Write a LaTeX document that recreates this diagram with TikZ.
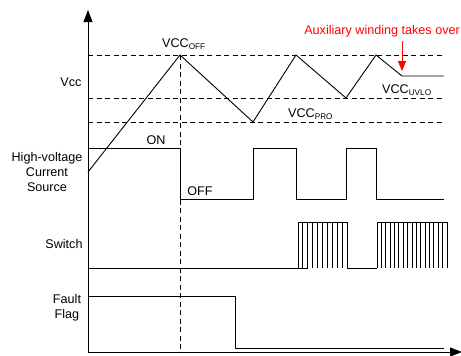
\documentclass[tikz,border=0pt]{standalone}
\usepackage{fontspec}
\setmainfont{Liberation Sans}
\usetikzlibrary{arrows.meta}
\begin{document}
\begin{tikzpicture}[x=1pt,y=-1pt,
  wave/.style={line width=0.9pt,black},
  guide/.style={line width=0.8pt,dash pattern=on 5pt off 3.5pt},
  axis/.style={line width=0.9pt,-{Triangle[length=12pt,width=9pt]}},
  lbl/.style={font=\fontsize{12.6}{15}\selectfont,inner sep=0pt,align=center}]
\useasboundingbox (0,0) rectangle (461,356);
% axes
\coordinate (O) at (88,352);
\coordinate (ytop) at (88,10);
\coordinate (xend) at (462,352);
\draw[axis] (O) -- (ytop);
\draw[axis] (O) -- (xend);
% guides
\coordinate (gOFFa) at (88,55);  \coordinate (gOFFb) at (444,55);
\coordinate (gUVa) at (88,98);   \coordinate (gUVb) at (444,98);
\coordinate (gPRa) at (88,122);  \coordinate (gPRb) at (444,122);
\coordinate (vT) at (180,55);    \coordinate (vB) at (180,352);
\draw[guide] (gOFFa) -- (gOFFb);
\draw[guide] (gUVa) -- (gUVb);
\draw[guide] (gPRa) -- (gPRb);
\draw[guide] (vT) -- (vB);
% Vcc waveform
\draw[wave] (88,172) -- (180,55) -- (253,122) -- (296,55) -- (346,98) -- (376,55) -- (402,76) -- (444,76);
% HV current source
\draw[wave] (88,172) -- (88,148) -- (180,148) -- (180,199) -- (253,199) -- (253,148) -- (296,148) -- (296,199)
  -- (346,199) -- (346,148) -- (376,148) -- (376,199) -- (444,199);
% switch
\draw[wave] (88,268) -- (308,268);
\draw[wave] (347,268) -- (377,268);
\draw[wave] (298,222) -- (347,222);
\foreach \k in {0,...,10} \draw[wave] ({298+4.9*\k},222) -- ({298+4.9*\k},268);
\draw[wave] (377,222) -- (448,222);
\foreach \k in {0,...,16} \draw[wave] ({377+4.375*\k},222) -- ({377+4.375*\k},268);
% fault flag
\draw[wave] (88,296) -- (235,296) -- (235,348) -- (444,348);
% labels
\node[lbl] (lvcc) at (71,82) {Vcc};
\node[lbl] (lhv) at (47,172) {High-voltage\\Current\\Source};
\node[lbl] (lsw) at (64,244) {Switch};
\node[lbl] (lff) at (67,308) {Fault\\Flag};
\node[lbl] (lon) at (156,140) {ON};
\node[lbl] (loff) at (200,191) {OFF};
\node[lbl,anchor=west] (loffv) at (162,44) {VCC{\fontsize{8.2}{9}\selectfont\raisebox{-2pt}{OFF}}};
\node[lbl,anchor=west] (luvlo) at (382,90) {VCC{\fontsize{8.2}{9}\selectfont\raisebox{-2pt}{UVLO}}};
\node[lbl,anchor=west] (lpro) at (288,114) {VCC{\fontsize{8.2}{9}\selectfont\raisebox{-2pt}{PRO}}};
\node[lbl,text=red,anchor=east] (laux) at (460,31) {Auxiliary winding takes over};
\coordinate (arrS) at (402,41);
\coordinate (arrE) at (402,71);
\draw[red,line width=0.9pt,-{Triangle[length=10pt,width=8pt]}] (arrS) -- (arrE);
\end{tikzpicture}
\end{document}
